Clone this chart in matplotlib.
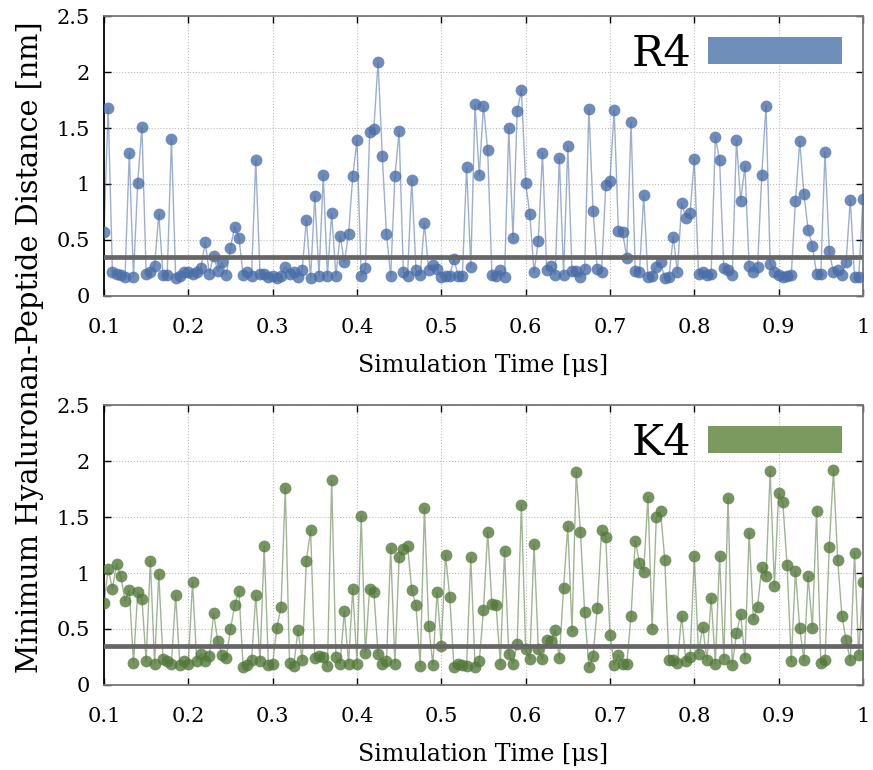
import matplotlib
matplotlib.use("Agg")
import matplotlib.pyplot as plt
from matplotlib.patches import Patch
import numpy as np

# simulation time [us], one frame every 0.005 us
time_us = np.round(np.arange(0.1, 1.0001, 0.005), 3)

dist_r4 = [
    0.57, 1.68, 0.21, 0.20, 0.19, 0.17, 1.28, 0.17, 1.01, 1.51,
    0.20, 0.21, 0.27, 0.73, 0.19, 0.19, 1.40, 0.16, 0.18, 0.21,
    0.21, 0.20, 0.21, 0.25, 0.48, 0.20, 0.36, 0.22, 0.30, 0.19,
    0.43, 0.62, 0.52, 0.19, 0.21, 0.18, 1.21, 0.20, 0.20, 0.17,
    0.18, 0.16, 0.18, 0.26, 0.20, 0.21, 0.17, 0.23, 0.68, 0.16,
    0.89, 0.18, 1.08, 0.18, 0.74, 0.18, 0.54, 0.30, 0.55, 1.07,
    1.39, 0.18, 0.25, 1.46, 1.49, 2.09, 1.25, 0.55, 0.18, 1.07,
    1.47, 0.21, 0.18, 1.04, 0.23, 0.19, 0.65, 0.23, 0.28, 0.24,
    0.17, 0.18, 0.18, 0.33, 0.18, 0.18, 1.15, 0.26, 1.71, 1.08,
    1.70, 1.30, 0.19, 0.18, 0.23, 0.17, 1.50, 0.52, 1.65, 1.84,
    1.01, 0.73, 0.21, 0.49, 1.28, 0.23, 0.27, 0.19, 1.23, 0.19,
    1.34, 0.22, 0.22, 0.17, 0.24, 1.67, 0.76, 0.24, 0.21, 0.99,
    1.03, 1.66, 0.58, 0.57, 0.34, 1.55, 0.22, 0.21, 0.90, 0.17,
    0.18, 0.26, 0.30, 0.16, 0.17, 0.53, 0.21, 0.83, 0.70, 0.74,
    1.22, 0.20, 0.21, 0.19, 0.20, 1.42, 1.21, 0.25, 0.23, 0.19,
    1.39, 0.85, 1.16, 0.27, 0.21, 0.26, 1.08, 1.70, 0.29, 0.21,
    0.19, 0.17, 0.18, 0.19, 0.85, 1.38, 0.91, 0.59, 0.45, 0.20,
    0.20, 1.29, 0.40, 0.21, 0.23, 0.19, 0.30, 0.86, 0.17, 0.17,
    0.87,
]

dist_k4 = [
    0.73, 1.04, 0.86, 1.08, 0.97, 0.75, 0.85, 0.20, 0.83, 0.77,
    0.21, 1.11, 0.19, 0.99, 0.23, 0.21, 0.19, 0.80, 0.18, 0.21,
    0.19, 0.92, 0.21, 0.28, 0.21, 0.26, 0.64, 0.39, 0.27, 0.24,
    0.50, 0.71, 0.84, 0.16, 0.18, 0.22, 0.80, 0.21, 1.24, 0.18,
    0.19, 0.51, 0.70, 1.76, 0.20, 0.17, 0.49, 0.22, 1.11, 1.38,
    0.24, 0.26, 0.25, 0.17, 1.83, 0.25, 0.19, 0.66, 0.19, 0.86,
    0.19, 1.51, 0.29, 0.86, 0.83, 0.28, 0.19, 0.21, 1.22, 0.19,
    1.14, 1.21, 1.24, 0.85, 0.71, 0.17, 1.58, 0.53, 0.18, 0.83,
    0.35, 1.16, 0.79, 0.16, 0.19, 0.18, 0.17, 1.14, 0.16, 0.21,
    0.67, 1.37, 0.72, 0.71, 0.19, 1.20, 0.28, 0.19, 0.37, 1.61,
    0.32, 0.23, 1.26, 0.32, 0.23, 0.40, 0.39, 0.49, 0.24, 0.87,
    1.42, 0.48, 1.90, 1.37, 0.65, 0.16, 0.26, 0.69, 1.38, 1.32,
    0.45, 0.18, 0.27, 0.19, 0.19, 0.62, 1.29, 1.09, 1.01, 1.68,
    0.50, 1.50, 1.55, 1.12, 0.22, 0.22, 0.20, 0.62, 0.21, 0.25,
    1.15, 0.28, 0.52, 0.22, 0.78, 0.19, 1.15, 0.23, 1.67, 0.18,
    0.46, 0.63, 0.24, 1.36, 0.59, 0.70, 1.05, 0.97, 1.91, 0.88,
    1.71, 1.63, 1.07, 0.21, 1.02, 0.51, 0.22, 0.97, 0.51, 1.55,
    0.20, 0.22, 1.23, 1.92, 1.12, 0.62, 0.40, 0.22, 1.18, 0.27,
    0.92,
]

cutoff = 0.35
x_ticks = [0.1, 0.2, 0.3, 0.4, 0.5, 0.6, 0.7, 0.8, 0.9, 1.0]
y_ticks = [0, 0.5, 1, 1.5, 2, 2.5]

panels = [
    ("R4", dist_r4, "#4a6ea8", "#6f8fbb"),
    ("K4", dist_k4, "#52793a", "#7a9a60"),
]

plt.rcParams['font.family'] = ['DejaVu Serif']

fig = plt.figure(figsize=(8.73, 7.70), dpi=100)
boxes = [[0.1191, 0.6156, 0.8694, 0.3636],
         [0.1191, 0.1104, 0.8694, 0.3636]]

for box, (name, dist, col, bar_col) in zip(boxes, panels):
    ax = fig.add_axes(box)
    ax.plot(time_us, dist, '-', color=col, lw=1.0, alpha=0.55, zorder=2)
    ax.plot(time_us, dist, 'o', color=col, ms=8.5, alpha=0.8,
            markeredgewidth=0, zorder=3)
    ax.axhline(cutoff, color='#666666', lw=3.4, zorder=4)

    ax.set_xlim(0.1, 1.0)
    ax.set_ylim(0, 2.5)
    ax.set_xticks(x_ticks)
    ax.set_xticklabels(['%g' % t for t in x_ticks])
    ax.set_yticks(y_ticks)
    ax.set_yticklabels(['%g' % t for t in y_ticks])
    ax.tick_params(direction='in', length=5, width=1, labelsize=15,
                   top=True, right=True, color='black')
    ax.tick_params(axis='x', pad=16)
    ax.tick_params(axis='y', pad=10)
    ax.grid(True, linestyle=':', color='#bbbbbb', lw=0.8)
    for side in ['top', 'right', 'bottom']:
        ax.spines[side].set_color('#777777')
    ax.spines['left'].set_color('black')
    for s in ax.spines.values():
        s.set_linewidth(1.3)
    ax.set_xlabel('Simulation Time [\u03bcs]', fontsize=17, labelpad=12)

    leg = ax.legend([Patch(facecolor=bar_col, edgecolor='none')], [name],
                    loc='center right', bbox_to_anchor=(0.972, 0.865),
                    frameon=False, markerfirst=False, fontsize=31,
                    handlelength=3.1, handleheight=0.57, handletextpad=0.4,
                    borderpad=0, borderaxespad=0)
    leg.set_zorder(5)

fig.text(0.034, 0.549, 'Minimum Hyaluronan-Peptide Distance [nm]',
         rotation=90, ha='center', va='center', fontsize=20.7)

fig.savefig('out.png', dpi=100)
